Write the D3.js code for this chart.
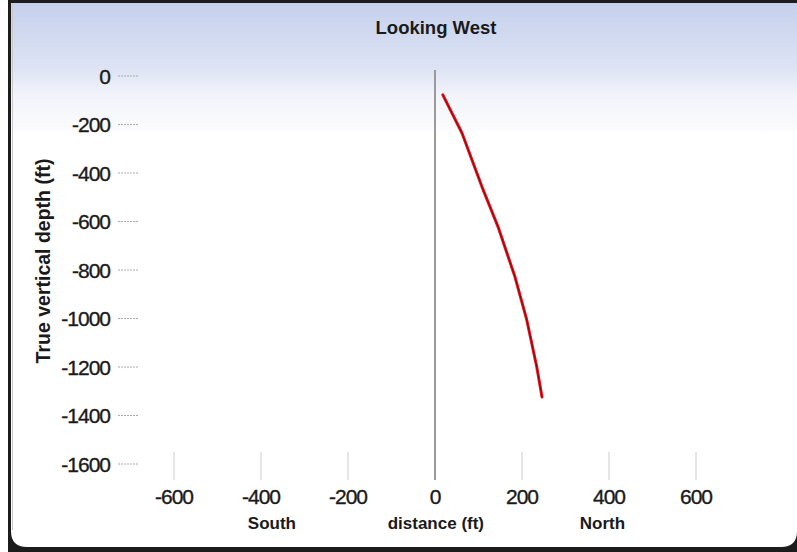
<!DOCTYPE html>
<html>
<head>
<meta charset="utf-8">
<script src="https://cdn.jsdelivr.net/npm/d3@7"></script>
<style>
  html, body { margin: 0; padding: 0; background: #fff; }
  svg { display: block; }
  text { font-family: "Liberation Sans", Arial, sans-serif; fill: #1a1a1a; }
</style>
</head>
<body>
<svg id="chart" width="797" height="552"></svg>
<script>
// Well path projected on the north-south plane (looking west)
const distance = [18, 62, 108, 145, 184, 211, 234, 246];      // ft, + = North
const depth    = [-78, -235, -457, -622, -829, -1006, -1200, -1324]; // true vertical depth, ft

const xTicks = [-600, -400, -200, 0, 200, 400, 600];
const yTicks = [0, -200, -400, -600, -800, -1000, -1200, -1400, -1600];
const chartTitle = "Looking West";
const xTitle = "distance (ft)";
const yTitle = "True vertical depth (ft)";
const dirLabels = [{ text: "South", at: -375 }, { text: xTitle, at: 2 }, { text: "North", at: 385 }];

const W = 797, H = 552;
const svg = d3.select("#chart");

const x = d3.scaleLinear().domain([-600, 600]).range([174, 696]);
const y = d3.scaleLinear().domain([0, -1600]).range([76, 464]);

// Frame and panel
const defs = svg.append("defs");
const grad = defs.append("linearGradient").attr("id", "panelGrad")
  .attr("x1", 0).attr("y1", 0).attr("x2", 0).attr("y2", 1);
grad.append("stop").attr("offset", "0%").attr("stop-color", "#c6d0ec");
grad.append("stop").attr("offset", "12%").attr("stop-color", "#dde3f4");
grad.append("stop").attr("offset", "17%").attr("stop-color", "#f2f4fa");
grad.append("stop").attr("offset", "23%").attr("stop-color", "#fbfbfd");
grad.append("stop").attr("offset", "24%").attr("stop-color", "#ffffff");
grad.append("stop").attr("offset", "100%").attr("stop-color", "#ffffff");

svg.append("rect").attr("x", 8).attr("y", 0).attr("width", W - 8).attr("height", H).attr("fill", "#1c1c1c");
const px0 = 11, py0 = 3, px1 = 797, py1 = 547, r = 16;
svg.append("path")
  .attr("d", `M${px0},${py0} H${px1} V${py1 - r} Q${px1},${py1} ${px1 - r},${py1} H${px0 + r} Q${px0},${py1} ${px0},${py1 - r} Z`)
  .attr("fill", "url(#panelGrad)");
svg.append("line").attr("x1", 12.5).attr("x2", 12.5).attr("y1", 3).attr("y2", 530)
  .attr("stroke", "#c8c8c8").attr("stroke-width", 1);

const textStroke = sel => sel.style("stroke", "#1a1a1a").style("stroke-width", "0.35px");

// Title
svg.append("text").attr("x", 436).attr("y", 34).attr("text-anchor", "middle")
  .style("font-weight", "bold").style("font-size", "18.5px").text(chartTitle);

// Y axis: right-aligned labels with short dotted tick lines
const yAxis = svg.append("g");
yAxis.selectAll("line").data(yTicks).join("line")
  .attr("x1", 118).attr("x2", 138)
  .attr("y1", d => y(d)).attr("y2", d => y(d))
  .attr("stroke", "#aaa").attr("stroke-width", 1).attr("stroke-dasharray", "2,1");
yAxis.selectAll("text").data(yTicks).join("text")
  .attr("x", 110).attr("y", d => y(d) + 7.5).attr("text-anchor", "end")
  .style("font-size", "21px").style("letter-spacing", "-1px").call(textStroke).text(d => d);

svg.append("text")
  .attr("transform", `translate(50, ${(152 + 370) / 2}) rotate(-90)`)
  .attr("text-anchor", "middle").style("font-weight", "bold").style("font-size", "19.5px")
  .text(yTitle);

// X axis: short vertical ticks with labels beneath
const xAxis = svg.append("g");
xAxis.selectAll("line").data(xTicks).join("line")
  .attr("x1", d => x(d)).attr("x2", d => x(d))
  .attr("y1", 452).attr("y2", 480)
  .attr("stroke", "#cccccc").attr("stroke-width", 1);
xAxis.selectAll("text").data(xTicks).join("text")
  .attr("x", d => x(d)).attr("y", 504).attr("text-anchor", "middle")
  .style("font-size", "21px").style("letter-spacing", "-1px").call(textStroke).text(d => d);

svg.selectAll("text.dir").data(dirLabels).join("text").attr("class", "dir")
  .attr("x", d => x(d.at)).attr("y", 529).attr("text-anchor", "middle")
  .style("font-weight", "bold").style("font-size", "17px").text(d => d.text);

// Zero-distance reference line
svg.append("line").attr("x1", x(0)).attr("x2", x(0)).attr("y1", 70).attr("y2", 480)
  .attr("stroke", "#9a9a9a").attr("stroke-width", 2);

// Well path
const line = d3.line().x((d, i) => x(distance[i])).y((d, i) => y(depth[i]));
svg.append("path").datum(distance).attr("d", line)
  .attr("fill", "none").attr("stroke", "#e8141c").attr("stroke-width", 3)
  .attr("stroke-linecap", "round").attr("stroke-linejoin", "round");
svg.append("path").datum(distance).attr("d", line)
  .attr("fill", "none").attr("stroke", "#7a0a10").attr("stroke-width", 1)
  .attr("stroke-linecap", "round").attr("stroke-linejoin", "round");
</script>
</body>
</html>
